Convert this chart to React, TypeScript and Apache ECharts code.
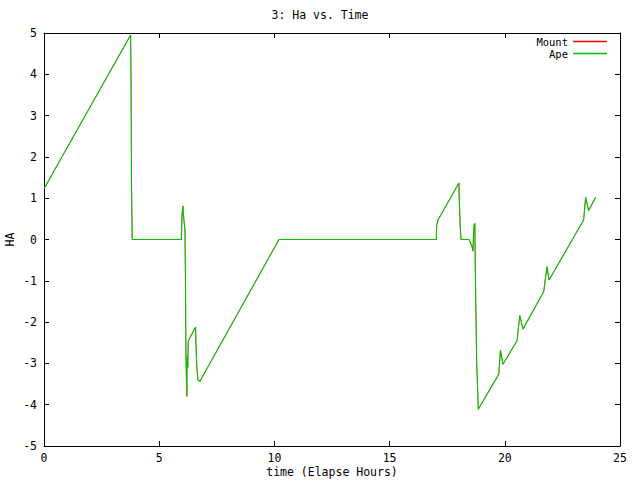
import React, { useEffect, useRef } from "react";
import * as echarts from "echarts";

const titleText = "3: Ha vs. Time";
const xAxisName = "time (Elapse Hours)";
const yAxisName = "HA";
const seriesNames = ["Mount", "Ape"];

const hours = [
  0, 3.76, 3.78, 3.8, 3.83, 5.96, 5.97, 5.99, 6.03, 6.05, 6.08, 6.12, 6.14, 6.16, 6.2, 6.21, 6.22, 6.24,
  6.26, 6.27, 6.58, 6.59, 6.63, 6.68, 6.76, 10.2, 17.03, 17.04, 17.1, 18.01, 18.02, 18.06, 18.1, 18.45,
  18.58, 18.62, 18.64, 18.67, 18.7, 18.72, 18.78, 18.85, 19.74, 19.81, 19.92, 20.53, 20.65, 20.79,
  21.69, 21.83, 21.92, 23.42, 23.51, 23.64, 23.94,
];

const mountHa = [
  1.23, 4.95, 3.72, 1.23, 0, 0, 0.2, 0.59, 0.81, 0.59, 0.59, 0.22, -0.93, -2.84, -3.8, -3.11, -2.84, -3.1,
  -2.46, -2.46, -2.12, -2.43, -3.06, -3.4, -3.44, 0, 0, 0.33, 0.47, 1.37, 1.04, 0.37, 0, 0,
  -0.18, -0.28, 0.1, 0.35, 0.39, -0.76, -2.99, -4.11, -3.26, -2.68, -3.02, -2.45, -1.84, -2.17,
  -1.26, -0.66, -0.98, 0.47, 1.02, 0.7, 1.02,
];

const apeHa = [
  1.23, 4.95, 3.72, 1.23, 0, 0, 0.2, 0.59, 0.81, 0.59, 0.59, 0.22, -0.93, -2.84, -3.8, -3.11, -2.84, -3.1,
  -2.46, -2.46, -2.12, -2.43, -3.06, -3.4, -3.44, 0, 0, 0.33, 0.47, 1.37, 1.04, 0.37, 0, 0,
  -0.18, -0.28, 0.1, 0.35, 0.39, -0.76, -2.99, -4.11, -3.26, -2.68, -3.02, -2.45, -1.84, -2.17,
  -1.26, -0.66, -0.98, 0.47, 1.02, 0.7, 1.02,
];

const FONT = "DejaVu Sans Mono";

export default function App() {
  const ref = useRef<HTMLDivElement>(null);
  useEffect(() => {
    if (!ref.current) return;
    const chart = echarts.init(ref.current, null, { renderer: "svg" });
    const axisCommon = {
      axisLine: { onZero: false, lineStyle: { color: "#000", width: 1 } },
      axisTick: { inside: true, length: 5, lineStyle: { color: "#000" } },
      splitLine: { show: false },
    };
    const labelStyle = { color: "#000", fontFamily: FONT, fontSize: 11.5 };
    chart.setOption({
      animation: false,
      backgroundColor: "#fff",
      title: {
        text: titleText,
        left: "center",
        top: 4,
        textStyle: { ...labelStyle, fontWeight: "normal" },
      },
      legend: {
        orient: "vertical",
        right: 33,
        top: 35.5,
        align: "right",
        icon: "rect",
        itemWidth: 34,
        itemHeight: 1.6,
        itemGap: 0,
        padding: 0,
        itemStyle: { borderWidth: 0 },
        lineStyle: { width: 0 },
        textStyle: { color: "#000", fontFamily: FONT, fontSize: 10.5, width: 38, align: "right", lineHeight: 12, padding: [0, 0, 0, 0] },
        data: [
          { name: seriesNames[0], itemStyle: { color: "#ff0000" } },
          { name: seriesNames[1], itemStyle: { color: "#00c000" } },
        ],
      },
      grid: { left: 44, right: 20, top: 33, bottom: 34, outerBoundsMode: "none", containLabel: false },
      xAxis: [
        {
          type: "value",
          min: 0,
          max: 25,
          interval: 5,
          position: "bottom",
          name: xAxisName,
          nameLocation: "middle",
          nameGap: 19,
          nameMoveOverlap: false,
          nameTextStyle: { ...labelStyle, lineHeight: 13 },
          axisLabel: { ...labelStyle, margin: 6 },
          ...axisCommon,
        },
        {
          type: "value",
          min: 0,
          max: 25,
          interval: 5,
          position: "top",
          axisLabel: { show: false },
          ...axisCommon,
        },
      ],
      yAxis: [
        {
          type: "value",
          min: -5,
          max: 5,
          interval: 1,
          position: "left",
          name: yAxisName,
          nameLocation: "middle",
          nameRotate: 90,
          nameGap: 28,
          nameMoveOverlap: false,
          nameTextStyle: labelStyle,
          axisLabel: { ...labelStyle, margin: 7 },
          ...axisCommon,
        },
        {
          type: "value",
          min: -5,
          max: 5,
          interval: 1,
          position: "right",
          axisLabel: { show: false },
          ...axisCommon,
        },
      ],
      series: [
        {
          name: seriesNames[0],
          type: "line",
          data: hours.map((h, i) => [h, mountHa[i]]),
          showSymbol: false,
          symbol: "none",
          itemStyle: { color: "#ff0000" },
          lineStyle: { color: "#ff0000", width: 0.6 },
        },
        {
          name: seriesNames[1],
          type: "line",
          data: hours.map((h, i) => [h, apeHa[i]]),
          showSymbol: false,
          symbol: "none",
          itemStyle: { color: "#00c000" },
          lineStyle: { color: "#00c000", width: 1.1 },
        },
      ],
    });
    return () => chart.dispose();
  }, []);
  return (
    <div
      ref={ref}
      style={{ position: "fixed", left: 0, top: 0, width: 640, height: 480, background: "#fff" }}
    />
  );
}
